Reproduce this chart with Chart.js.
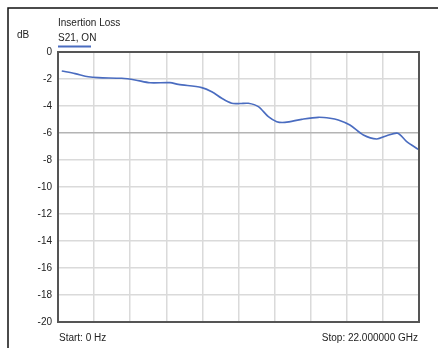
<!DOCTYPE html>
<html>
<head>
<meta charset="utf-8">
<script src="https://cdn.jsdelivr.net/npm/chart.js@4/dist/chart.umd.min.js"></script>
<style>
  html, body { margin: 0; padding: 0; background: #fff; }
  #wrap { width: 438px; height: 348px; position: relative; }
</style>
</head>
<body>
<div id="wrap"><canvas id="c" width="438" height="348"></canvas></div>
<script>
// S21 insertion loss trace (ON state), frequency in GHz vs. dB
const freqGHz = [0.23, 1.04, 1.85, 2.46, 3.88, 4.69, 5.61, 6.83, 7.33, 8.76, 9.37, 9.98, 10.59, 11.09, 11.6, 12.21, 12.82, 13.33, 13.83, 14.85, 15.86, 16.58, 17.08, 17.79, 18.61, 19.42, 20.03, 20.7, 21.25, 21.96];
const s21dB   = [-1.41, -1.6, -1.83, -1.9, -1.95, -2.07, -2.28, -2.27, -2.4, -2.64, -2.94, -3.43, -3.8, -3.82, -3.8, -4.05, -4.79, -5.16, -5.21, -4.99, -4.84, -4.91, -5.04, -5.41, -6.15, -6.44, -6.2, -6.02, -6.64, -7.21];
const yTicks = [0, -2, -4, -6, -8, -10, -12, -14, -16, -18, -20];
const refLevel = -6;
const texts = { title: 'Insertion Loss', trace: 'S21, ON', unit: 'dB', start: 'Start: 0 Hz', stop: 'Stop: 22.000000 GHz' };

const FONT = '10px "Liberation Sans", Arial, sans-serif';
const TRACE = '#4a6cc0';

const decor = {
  id: 'decor',
  beforeDraw(chart) {
    const ctx = chart.ctx;
    ctx.save();
    ctx.fillStyle = '#fff';
    ctx.fillRect(0, 0, chart.width, chart.height);
    // outer frame (top and left edges)
    ctx.strokeStyle = '#111';
    ctx.lineWidth = 1.5;
    ctx.beginPath();
    ctx.moveTo(8, chart.height);
    ctx.lineTo(8, 8);
    ctx.lineTo(chart.width, 8);
    ctx.stroke();
    ctx.restore();
  },
  afterDraw(chart) {
    const ctx = chart.ctx;
    const a = chart.chartArea;
    ctx.save();
    ctx.strokeStyle = '#555';
    ctx.lineWidth = 2;
    ctx.strokeRect(a.left, a.top, a.right - a.left, a.bottom - a.top);
    ctx.font = FONT;
    ctx.fillStyle = '#222';
    ctx.textBaseline = 'alphabetic';
    ctx.textAlign = 'left';
    ctx.fillText(texts.title, 58, 26);
    ctx.fillText(texts.trace, 58, 41);
    ctx.fillText(texts.unit, 17, 38);
    ctx.fillText(texts.start, 59, 341);
    ctx.textAlign = 'right';
    ctx.fillText(texts.stop, a.right - 1, 341);
    // legend swatch under trace name
    ctx.strokeStyle = TRACE;
    ctx.lineWidth = 2;
    ctx.beginPath();
    ctx.moveTo(58, 46.5);
    ctx.lineTo(91, 46.5);
    ctx.stroke();
    ctx.restore();
  }
};

new Chart(document.getElementById('c'), {
  type: 'line',
  data: {
    datasets: [{
      data: freqGHz.map((f, i) => ({ x: f, y: s21dB[i] })),
      borderColor: TRACE,
      borderWidth: 1.6,
      pointRadius: 0,
      tension: 0.3,
      fill: false
    }]
  },
  options: {
    responsive: false,
    animation: false,
    devicePixelRatio: 1,
    layout: { padding: { left: 0, top: 52, right: 19, bottom: 26 } },
    plugins: { legend: { display: false }, tooltip: { enabled: false } },
    scales: {
      x: {
        type: 'linear', min: 0, max: 22,
        ticks: { display: false, stepSize: 2.2 },
        afterBuildTicks(s) { s.ticks = Array.from({ length: 11 }, (_, i) => ({ value: i * 2.2 })); },
        afterFit(s) { s.height = 0; },
        grid: { color: '#dadada', lineWidth: 1.5, drawTicks: false },
        border: { display: false }
      },
      y: {
        min: -20, max: 0,
        afterBuildTicks(s) { s.ticks = yTicks.map(v => ({ value: v })); },
        afterFit(s) { s.width = 58; },
        ticks: { font: { family: '"Liberation Sans", Arial, sans-serif', size: 10 }, color: '#222', padding: 6 },
        grid: {
          color: c => (c.tick && c.tick.value === refLevel) ? '#b4b4b4' : '#dadada',
          lineWidth: 1.5, drawTicks: false
        },
        border: { display: false }
      }
    }
  },
  plugins: [decor]
});
</script>
</body>
</html>
